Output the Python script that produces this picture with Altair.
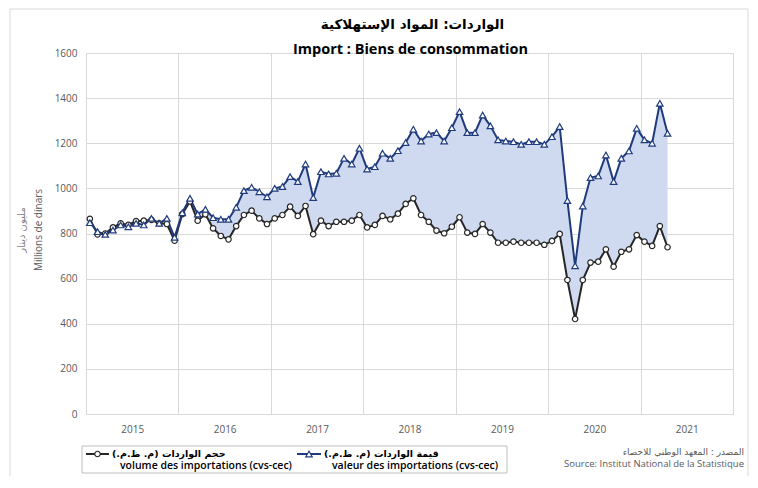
import altair as alt
import pandas as pd

# ---------------- data (monthly, Jan 2015 .. Apr 2021) ----------------
first_year = 2015
year_labels = [2015, 2016, 2017, 2018, 2019, 2020, 2021]

valeur = [
    848, 808, 796, 815, 838, 830, 845, 838, 867, 845, 867, 783,      # 2015
    892, 956, 886, 907, 870, 863, 863, 916, 990, 1005, 985, 963,     # 2016
    1000, 1008, 1052, 1030, 1108, 959, 1074, 1064, 1067, 1133, 1108, 1178,  # 2017
    1086, 1096, 1156, 1133, 1167, 1203, 1262, 1210, 1241, 1247, 1210, 1269,  # 2018
    1340, 1247, 1247, 1325, 1277, 1215, 1210, 1207, 1195, 1207, 1207, 1195,  # 2019
    1229, 1274, 946, 657, 922, 1048, 1055, 1148, 1030, 1133, 1166, 1266,     # 2020
    1215, 1200, 1377, 1244,                                                  # 2021
]
volume = [
    865, 796, 800, 827, 845, 838, 855, 857, 860, 845, 842, 768,      # 2015
    886, 942, 857, 885, 823, 789, 774, 833, 882, 901, 867, 842,      # 2016
    867, 882, 919, 878, 922, 797, 857, 833, 852, 852, 857, 882,      # 2017
    827, 838, 878, 863, 888, 931, 956, 882, 852, 813, 801, 830,      # 2018
    872, 804, 798, 842, 804, 759, 759, 764, 759, 759, 759, 750,      # 2019
    767, 798, 594, 421, 594, 671, 675, 730, 653, 719, 730, 793,      # 2020
    764, 745, 833, 739,                                              # 2021
]
month_index = list(range(len(valeur)))
y_ticks = [0, 200, 400, 600, 800, 1000, 1200, 1400, 1600]

title_ar = "الواردات: المواد الإستهلاكية"
title_fr = "Import : Biens de consommation"
ytitle_ar = "مليون دينار"
ytitle_fr = "Millions de dinars"
leg_vol_ar = "حجم الواردات (م. ظ.م.)"
leg_vol_fr = "volume des importations (cvs-cec)"
leg_val_ar = "قيمة  الواردات (م. ظ.م.)"
leg_val_fr = "valeur des importations (cvs-cec)"
src_ar = "المصدر : المعهد الوطني للاحصاء"
src_fr = "Source: Institut National de la Statistique"

RLM = "\u200f"

df = pd.DataFrame({
    "m": [i + 0.5 for i in month_index],
    "valeur": valeur,
    "volume": volume,
})

W, H = 647, 361
NAVY = "#1f3b7d"
BLACK = "#262626"
FILL = "#cfdaf0"
GRID = "#d9d9d9"
LBL = "#595959"
n_years = len(year_labels)
slot = W / n_years

xscale = alt.Scale(domain=[0, 12 * n_years], nice=False, zero=False)
xaxis = alt.Axis(
    values=[12 * k for k in range(n_years + 1)],
    labelExpr=f"datum.value < {12 * n_years} ? '' + ({first_year} + datum.value / 12) : ''",
    labelOffset=slot / 2, labelFlush=False, labelOverlap=False, labelAlign="center",
    ticks=False, domain=False, grid=True, gridColor=GRID, gridWidth=1,
    title=None, labelPadding=10, labelFontSize=10, labelColor=LBL,
)
yscale = alt.Scale(domain=[0, 1600], nice=False, zero=True)
yaxis = alt.Axis(
    values=y_ticks, format="d", ticks=False, domain=False, grid=True, gridColor=GRID, gridWidth=1,
    title=None, labelPadding=9, labelFontSize=10, labelColor=LBL,
)

X = alt.X("m:Q", scale=xscale, axis=xaxis)
Yval = alt.Y("valeur:Q", scale=yscale, axis=yaxis)
Yvol = alt.Y("volume:Q", scale=yscale, axis=yaxis)

base = alt.Chart(df)
area = base.mark_area(color=FILL, opacity=1).encode(x=X, y=Yval, y2="volume:Q")
vol_line = base.mark_line(color=BLACK, strokeWidth=2).encode(x=X, y=Yvol)
vol_pts = base.mark_point(shape="circle", filled=True, fill="white", stroke=BLACK,
                          strokeWidth=1.2, size=30, opacity=1).encode(x=X, y=Yvol)
val_line = base.mark_line(color=NAVY, strokeWidth=2).encode(x=X, y=Yval)
val_pts = base.mark_point(shape="triangle-up", filled=True, fill="white", stroke=NAVY,
                          strokeWidth=1.2, size=42, opacity=1).encode(x=X, y=Yval)


def one():
    return pd.DataFrame({"t": [""]})


def txt(s, x, y, **kw):
    return alt.Chart(pd.DataFrame({"t": [s]})).mark_text(**kw).encode(
        text="t:N", x=alt.value(x), y=alt.value(y))


AR_FONT = "DejaVu Sans"
LAT_FONT = "Open Sans"

layers = [area, vol_line, val_line, vol_pts, val_pts]

# outer frame
layers.append(alt.Chart(one()).mark_rect(fill=None, stroke=GRID, strokeWidth=1).encode(
    x=alt.value(-76), x2=alt.value(662), y=alt.value(-44), y2=alt.value(440)))

# titles
layers.append(txt(RLM + title_ar + RLM, W / 2 + 3, -28, font=AR_FONT, fontSize=13.5,
                  fontWeight="bold", color="black", align="center", baseline="middle"))
layers.append(txt(title_fr, W / 2 + 1, -3, font=LAT_FONT, fontSize=14.5,
                  fontWeight="bold", color="black", align="center", baseline="middle"))

# y axis titles
layers.append(txt(RLM + ytitle_ar + RLM, -64, 177, font=AR_FONT, fontSize=10,
                  color="#7f7f7f", angle=270, align="center", baseline="middle"))
layers.append(txt(ytitle_fr, -47, 177, font=LAT_FONT, fontSize=10,
                  color=LBL, angle=270, align="center", baseline="middle"))

# legend box
layers.append(alt.Chart(one()).mark_rect(fill="white", stroke="#bfbfbf", strokeWidth=1).encode(
    x=alt.value(-4), x2=alt.value(421), y=alt.value(393), y2=alt.value(420)))
# legend: volume
layers.append(alt.Chart(one()).mark_rule(color=BLACK, strokeWidth=2).encode(
    x=alt.value(0), x2=alt.value(23), y=alt.value(401)))
layers.append(alt.Chart(one()).mark_point(shape="circle", filled=True, fill="white", stroke=BLACK,
                                          strokeWidth=1.2, size=30, opacity=1).encode(
    x=alt.value(11.5), y=alt.value(401)))
layers.append(txt(RLM + leg_vol_ar + RLM, 26, 401, font=AR_FONT, fontSize=9.5,
                  fontWeight="bold", color="black", align="left", baseline="middle"))
layers.append(txt(leg_vol_fr, 34, 413, font=LAT_FONT, fontSize=10.5,
                  fontWeight=600, color="black", align="left", baseline="middle"))
# legend: valeur
layers.append(alt.Chart(one()).mark_rule(color=NAVY, strokeWidth=2).encode(
    x=alt.value(211), x2=alt.value(235), y=alt.value(401)))
layers.append(alt.Chart(one()).mark_point(shape="triangle-up", filled=True, fill="white", stroke=NAVY,
                                          strokeWidth=1.2, size=42, opacity=1).encode(
    x=alt.value(223), y=alt.value(401)))
layers.append(txt(RLM + leg_val_ar + RLM, 238, 401, font=AR_FONT, fontSize=9.5,
                  fontWeight="bold", color="black", align="left", baseline="middle"))
layers.append(txt(leg_val_fr, 246, 413, font=LAT_FONT, fontSize=10.5,
                  fontWeight=600, color="black", align="left", baseline="middle"))

# source
layers.append(txt(RLM + src_ar + RLM, 658, 399, font=AR_FONT, fontSize=9,
                  color=LBL, align="right", baseline="middle"))
layers.append(txt(src_fr, 658, 411, font=LAT_FONT, fontSize=9.5,
                  color=LBL, align="right", baseline="middle"))

chart = alt.layer(*layers).properties(
    width=W, height=H,
    autosize=alt.AutoSizeParams(type="none"),
    padding={"left": 78, "top": 45, "right": 17, "bottom": 62},
).configure_view(stroke=None).configure(font=LAT_FONT)

chart.save("out.html", embed_options={"renderer": "svg", "actions": False})
